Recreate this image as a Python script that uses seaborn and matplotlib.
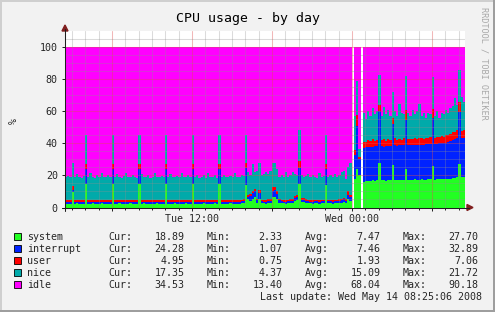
import numpy as np
import pandas as pd
import matplotlib
matplotlib.use("Agg")
import matplotlib.pyplot as plt
import seaborn as sns
from matplotlib.patches import Rectangle, Polygon
from matplotlib.lines import Line2D

sns.set_style("white")
plt.rcParams['font.family'] = ['DejaVu Sans Mono', 'DejaVu Sans']

# ---------------- data (10-minute steps, hours after Tue 00:00) ----------------
T_START = 2.475
STEP_H = 1 / 6
nan = float('nan')

system = [
    2.3, 2.4, 2.3, 9.6, 2.4, 2.5, 2.4, 2.3, 2.4, 14.8,
    2.4, 2.3, 2.5, 2.4, 2.3, 2.4, 2.5, 2.4, 2.3, 2.4,
    2.4, 14.8, 2.4, 2.3, 2.5, 2.4, 2.4, 2.3, 2.4, 2.5,
    2.4, 2.3, 2.4, 14.8, 2.4, 2.5, 2.3, 2.4, 2.4, 2.3,
    2.4, 2.5, 2.4, 2.3, 2.4, 14.8, 2.4, 2.3, 2.4, 2.5,
    2.4, 2.4, 2.3, 2.4, 2.5, 2.4, 2.3, 14.8, 2.4, 2.4,
    2.3, 2.4, 2.5, 2.4, 2.4, 2.3, 2.4, 2.5, 2.4, 14.8,
    2.4, 2.3, 2.4, 2.4, 2.5, 2.3, 2.4, 2.4, 2.3, 2.5,
    2.6, 13.8, 5.0, 4.0, 5.0, 6.4, 3.0, 5.0, 2.8, 2.5,
    2.4, 2.6, 2.8, 6.5, 6.5, 5.5, 3.0, 2.6, 2.5, 2.4,
    2.5, 2.6, 2.8, 4.0, 4.5, 14.8, 3.5, 3.5, 3.0, 2.6,
    2.5, 2.4, 2.5, 2.6, 2.4, 2.5, 2.6, 14.0, 2.6, 2.5,
    2.4, 2.5, 2.6, 2.8, 3.0, 3.2, 3.0, 5.0, 4.0,
    nan, 18.0, 24.0, 20.0, nan,
    16.0, 16.3, 16.8, 16.5, 17.0, 16.6, 17.2, 27.5, 16.9, 17.1,
    16.8, 17.3, 17.0, 26.3, 16.9, 17.2, 17.4, 17.0, 17.3, 24.2,
    17.1, 17.4, 17.2, 17.6, 17.3, 17.0, 17.5, 17.4, 17.2, 17.6,
    17.5, 26.0, 17.4, 17.7, 17.5, 17.8, 17.6, 17.9, 18.0, 17.7,
    18.2, 18.5, 18.8, 27.3, 18.9, 18.89,
]

interrupt = [
    1.2, 1.1, 1.3, 1.4, 1.2, 1.1, 1.2, 1.3, 1.2, 9.5,
    1.2, 1.3, 1.1, 1.2, 1.3, 1.2, 1.1, 1.2, 1.3, 1.2,
    1.2, 9.5, 1.2, 1.3, 1.1, 1.2, 1.3, 1.2, 1.1, 1.2,
    1.3, 1.2, 1.2, 9.5, 1.2, 1.1, 1.3, 1.2, 1.2, 1.3,
    1.2, 1.1, 1.2, 1.3, 1.2, 9.5, 1.2, 1.3, 1.1, 1.2,
    1.2, 1.3, 1.2, 1.1, 1.2, 1.3, 1.2, 9.5, 1.2, 1.1,
    1.2, 1.3, 1.2, 1.2, 1.1, 1.3, 1.2, 1.2, 1.3, 9.5,
    1.2, 1.1, 1.3, 1.2, 1.2, 1.3, 1.1, 1.2, 1.2, 1.3,
    1.4, 11.0, 1.5, 3.0, 4.0, 4.0, 1.5, 4.0, 1.2, 1.2,
    1.3, 1.4, 1.5, 4.0, 4.2, 3.0, 1.5, 1.3, 1.2, 1.2,
    1.3, 1.4, 1.5, 2.0, 2.0, 10.0, 1.4, 1.3, 1.3, 1.2,
    1.2, 1.2, 1.3, 1.2, 1.2, 1.3, 1.2, 10.0, 1.2, 1.3,
    1.2, 1.3, 1.3, 1.4, 1.5, 1.8, 1.2, 3.0, 2.5,
    nan, 15.0, 27.0, 10.0, nan,
    21.0, 21.4, 20.6, 21.5, 20.7, 21.6, 20.9, 32.9, 21.2, 20.8,
    21.5, 20.9, 21.6, 25.5, 21.8, 21.3, 21.4, 21.9, 21.5, 30.5,
    21.7, 21.3, 21.8, 21.4, 21.9, 22.2, 21.6, 21.8, 22.3, 21.9,
    22.0, 30.0, 22.3, 21.9, 22.5, 22.1, 22.6, 22.4, 22.9, 23.5,
    23.8, 24.0, 24.5, 32.0, 24.3, 24.28,
]

user = [
    0.9, 1.0, 0.9, 2.7, 0.9, 1.0, 0.9, 0.8, 1.0, 3.0,
    0.9, 1.0, 0.9, 0.9, 1.0, 0.8, 0.9, 1.0, 0.9, 0.9,
    1.0, 3.0, 0.9, 0.9, 1.0, 0.9, 0.8, 1.0, 0.9, 0.9,
    0.9, 1.0, 0.9, 3.0, 1.0, 0.9, 0.9, 0.8, 1.0, 0.9,
    0.9, 1.0, 0.9, 0.9, 1.0, 3.0, 0.9, 0.8, 0.9, 1.0,
    0.9, 0.9, 1.0, 0.9, 0.8, 0.9, 1.0, 3.0, 0.9, 0.9,
    1.0, 0.9, 0.9, 0.8, 1.0, 0.9, 0.9, 1.0, 0.9, 3.0,
    0.9, 1.0, 0.9, 0.9, 0.8, 1.0, 0.9, 0.9, 1.0, 0.9,
    1.0, 3.0, 1.0, 1.5, 1.5, 1.3, 1.0, 1.6, 0.9, 0.9,
    1.0, 1.0, 1.1, 2.0, 2.0, 1.5, 1.0, 0.9, 0.9, 1.0,
    0.9, 1.0, 1.1, 1.3, 1.2, 4.0, 1.0, 1.0, 0.9, 0.9,
    1.0, 0.9, 0.9, 1.0, 0.9, 1.0, 0.9, 3.0, 0.9, 1.0,
    0.9, 1.0, 0.9, 1.0, 1.1, 1.2, 0.8, 2.5, 1.5,
    nan, 3.0, 6.5, 1.5, nan,
    4.0, 3.2, 4.5, 3.6, 4.8, 3.5, 4.2, 3.5, 3.8, 4.6,
    3.4, 4.3, 3.7, 4.0, 4.4, 3.6, 4.1, 3.3, 4.5, 6.0,
    3.8, 4.2, 3.5, 4.6, 3.7, 4.0, 4.3, 3.6, 4.1, 3.9,
    4.2, 5.5, 3.8, 4.5, 3.9, 4.4, 4.0, 4.6, 4.2, 4.5,
    4.8, 4.4, 5.0, 6.5, 4.7, 4.95,
]

nice = [
    14.5, 15.0, 14.2, 13.8, 14.6, 16.5, 14.3, 14.0, 15.2, 17.7,
    14.2, 16.8, 14.5, 14.0, 15.5, 14.3, 17.2, 14.1, 14.6, 15.8,
    14.3, 17.7, 14.6, 16.5, 14.2, 14.0, 15.3, 17.0, 14.4, 14.2,
    15.6, 14.3, 14.1, 17.7, 16.2, 14.4, 14.6, 15.9, 14.0, 14.5,
    17.3, 14.2, 14.8, 15.0, 14.1, 17.7, 14.3, 16.4, 14.6, 14.0,
    15.2, 14.4, 17.1, 14.3, 14.7, 15.6, 14.2, 17.7, 14.4, 16.0,
    14.1, 14.6, 15.4, 14.2, 17.0, 14.5, 14.3, 15.8, 14.0, 17.7,
    14.4, 16.1, 14.2, 14.6, 15.3, 14.1, 16.9, 14.3, 14.5, 15.5,
    14.6, 17.2, 14.5, 11.5, 16.5, 10.3, 17.5, 17.4, 15.1, 16.4,
    17.3, 16.0, 17.6, 15.0, 14.8, 14.0, 13.5, 15.2, 14.4, 17.4,
    14.3, 15.0, 16.6, 13.7, 12.3, 19.2, 14.1, 13.2, 14.3, 16.3,
    14.3, 16.0, 14.3, 13.7, 17.0, 14.2, 14.8, 18.0, 14.3, 15.2,
    14.5, 16.2, 14.2, 14.8, 16.4, 16.8, 13.0, 14.5, 20.0,
    nan, 21.0, 21.5, 5.0, nan,
    18.0, 14.1, 18.1, 15.4, 19.5, 16.3, 17.7, 18.6, 15.1, 20.2,
    16.3, 18.5, 14.7, 16.2, 16.9, 14.9, 21.5, 16.8, 14.7, 21.3,
    16.4, 14.1, 18.5, 14.4, 17.1, 21.3, 13.6, 16.2, 12.4, 15.6,
    14.3, 20.0, 13.5, 15.9, 12.1, 14.7, 13.8, 16.1, 13.9, 16.3,
    16.2, 21.1, 15.7, 20.2, 21.1, 17.35,
]

series_names = ['system', 'interrupt', 'user', 'nice', 'idle']
series_colors = ['#22FF22', '#0022FF', '#FF0000', '#00AAAA', '#FF00FF']
cur_vals = [18.89, 24.28, 4.95, 17.35, 34.53]
min_vals = [2.33, 1.07, 0.75, 4.37, 13.40]
avg_vals = [7.47, 7.46, 1.93, 15.09, 68.04]
max_vals = [27.70, 32.89, 7.06, 21.72, 90.18]

x_tick_pos = [6, 12, 18, 24, 30]
x_tick_labels = ['', 'Tue 12:00', '', 'Wed 00:00', '']
y_ticks = [0, 20, 40, 60, 80, 100]

title = 'CPU usage - by day'
last_update = 'Last update: Wed May 14 08:25:06 2008'
watermark = 'RRDTOOL / TOBI OETIKER'

# ---------------- build frame ----------------
df = pd.DataFrame({'system': system, 'interrupt': interrupt,
                   'user': user, 'nice': nice})
df['idle'] = 100 - df.sum(axis=1, skipna=False)   # idle fills up to 100 %
n = len(df)
t_edges = T_START + np.arange(n + 1) * STEP_H
xs = np.repeat(t_edges, 2)[1:-1]
cum = df[series_names].cumsum(axis=1)

# ---------------- figure ----------------
W, H = 495, 312
def P(x, y):
    return (x / W, 1 - y / H)

fig = plt.figure(figsize=(W / 100, H / 100), dpi=100, facecolor='#F2F2F2')
ax = fig.add_axes([65 / W, 1 - 207.5 / H, 400 / W, (207.5 - 31) / H])
ax.set_facecolor('white')

lower = np.zeros(2 * n)
for name, col in zip(series_names, series_colors):
    upper = np.repeat(cum[name].to_numpy(), 2)
    ok = ~np.isnan(upper)
    ax.fill_between(xs, np.where(ok, lower, 0), np.where(ok, upper, 0),
                    where=ok, color=col, lw=0, interpolate=False, zorder=1)
    lower = upper

ax.set_xlim(T_START, T_START + n * STEP_H)
ax.set_ylim(0, 110)

# grid (drawn over the data, like rrdtool)
minor_c = (0.56, 0.56, 0.56, 0.32)
major_c = (0.87, 0.31, 0.31, 0.40)
for h in range(3, 33):
    ax.axvline(h, color=major_c if h % 6 == 0 else minor_c, lw=0.75, zorder=3)
for v in range(5, 110, 5):
    ax.axhline(v, color=major_c if v % 20 == 0 else minor_c, lw=0.75, zorder=3)

for s in ax.spines.values():
    s.set_visible(False)

ax.set_xticks(x_tick_pos)
ax.set_xticklabels(x_tick_labels)
ax.set_xticks(range(3, 33), minor=True)
ax.set_yticks(y_ticks)
ax.set_yticklabels([str(v) for v in y_ticks])
ax.tick_params(axis='x', which='major', length=2.2, width=0.7, color='#1F1F1F',
               labelsize=7.2, pad=2.2, bottom=True, direction='out')
ax.tick_params(axis='x', which='minor', length=1.5, width=0.7, color='#1F1F1F',
               bottom=True, direction='out')
ax.tick_params(axis='y', which='major', length=2.2, width=0.7, color='#1F1F1F',
               labelsize=7.2, pad=3.0, left=True, direction='out')

# axes lines with arrows
fig.add_artist(Line2D([P(62, 0)[0], P(469, 0)[0]], [P(0, 207.5)[1]] * 2,
                      color='#1F1F1F', lw=0.75))
fig.add_artist(Line2D([P(65, 0)[0]] * 2, [P(0, 211)[1], P(0, 29)[1]],
                      color='#1F1F1F', lw=0.75))
fig.add_artist(Polygon([P(467, 204.5), P(467, 210.5), P(473, 207.5)],
                       closed=True, color='#801F1F', transform=fig.transFigure))
fig.add_artist(Polygon([P(62, 31), P(68, 31), P(65, 25)],
                       closed=True, color='#801F1F', transform=fig.transFigure))

# title, axis label, watermark
fig.text(*P(247.5, 21.7), title, ha='center', va='baseline', fontsize=9.5, color='black')
fig.text(*P(14, 121), '%', ha='center', va='center', rotation=90, fontsize=7.2)
fig.text(*P(484, 7), watermark, ha='center', va='top', rotation=270,
         fontsize=6.1, color='#A8A8A8')

# legend
for k, (name, col) in enumerate(zip(series_names, series_colors)):
    yb = 240.3 + 11.95 * k
    fig.add_artist(Rectangle(P(14, yb), 7 / W, 7 / H, transform=fig.transFigure,
                             facecolor=col, edgecolor='black', lw=0.6))
    fig.text(*P(27, yb), name, ha='left', va='baseline', fontsize=7.2)
    fig.text(*P(108.3, yb), 'Cur:', ha='left', va='baseline', fontsize=7.2)
    fig.text(*P(184.5, yb), f'{cur_vals[k]:.2f}', ha='right', va='baseline', fontsize=7.2)
    fig.text(*P(206.7, yb), 'Min:', ha='left', va='baseline', fontsize=7.2)
    fig.text(*P(282.5, yb), f'{min_vals[k]:.2f}', ha='right', va='baseline', fontsize=7.2)
    fig.text(*P(305, yb), 'Avg:', ha='left', va='baseline', fontsize=7.2)
    fig.text(*P(380.5, yb), f'{avg_vals[k]:.2f}', ha='right', va='baseline', fontsize=7.2)
    fig.text(*P(402.7, yb), 'Max:', ha='left', va='baseline', fontsize=7.2)
    fig.text(*P(478.5, yb), f'{max_vals[k]:.2f}', ha='right', va='baseline', fontsize=7.2)
fig.text(*P(481.5, 300.3), last_update, ha='right', va='baseline', fontsize=7.2)

# 3-D style frame
fig.add_artist(Rectangle((0, 1 - 2 / H), 1, 2 / H, transform=fig.transFigure,
                         color='#CFCFCF', lw=0))
fig.add_artist(Rectangle((0, 0), 2 / W, 1, transform=fig.transFigure,
                         color='#CFCFCF', lw=0))
fig.add_artist(Rectangle((0, 0), 1, 2 / H, transform=fig.transFigure,
                         color='#9E9E9E', lw=0))
fig.add_artist(Rectangle((1 - 2 / W, 0), 2 / W, 1, transform=fig.transFigure,
                         color='#9E9E9E', lw=0))

fig.savefig('out.png', dpi=100, facecolor=fig.get_facecolor())
